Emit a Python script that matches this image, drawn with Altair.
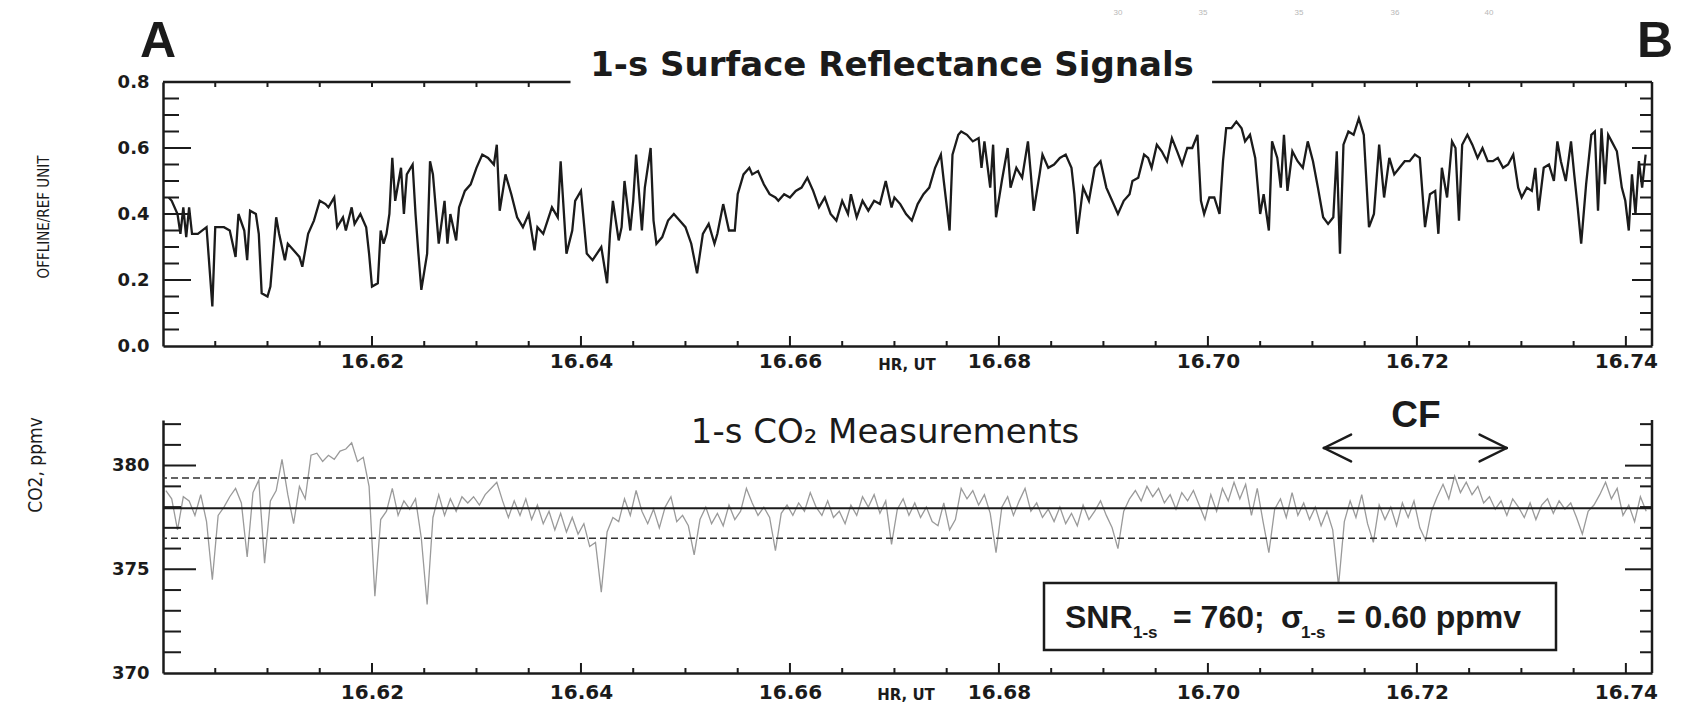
import altair as alt
import pandas as pd

INK = "#1b1b1b"
CO2_GREY = "#9a9a9a"
SANS = "Liberation Sans, Arial, sans-serif"
WIDE = "DejaVu Sans, sans-serif"
COND = "DejaVu Sans Condensed, Liberation Sans Narrow, DejaVu Sans, sans-serif"

# ---- layout (plot areas) ----
W = 1489
H_TOP = 264
H_BOT = 253
GAP = 74
PAD_L, PAD_T, PAD_R, PAD_B = 155, 74, 23, 31

# ---- axes ----
HOUR0 = 16.60
X_DOMAIN = [16.60, 16.7425]
X_MAJOR = [16.62, 16.64, 16.66, 16.68, 16.70, 16.72, 16.74]
X_MINOR = [16.605, 16.610, 16.615, 16.625, 16.630, 16.635, 16.645, 16.650, 16.655,
           16.665, 16.670, 16.675, 16.685, 16.690, 16.695, 16.705, 16.710, 16.715,
           16.725, 16.730, 16.735]
TOP_GAP = [16.639, 16.7004]          # gap in the top frame line behind the title

Y_TOP_DOMAIN = [0.0, 0.8]
Y_TOP_LABELS = [0.0, 0.2, 0.4, 0.6, 0.8]
Y_TOP_MAJOR = [0.2, 0.4, 0.6]
Y_TOP_MINOR = [0.05, 0.10, 0.15, 0.25, 0.30, 0.35, 0.45, 0.50, 0.55, 0.65, 0.70, 0.75]

Y_BOT_DOMAIN = [370.0, 382.2]
Y_BOT_LABELS = [370, 375, 380]
Y_BOT_MAJOR = [375, 380]
Y_BOT_MINOR = [371, 372, 373, 374, 376, 377, 378, 379, 381, 382]

# ---- surface reflectance signal (seconds after 16.60 h, value) ----
REFL_SEC = [2, 3, 5, 6, 7, 8, 9, 10, 12, 15, 17, 18, 21, 23, 25, 26, 28, 29, 30, 32,
            33, 34, 36, 37, 39, 40, 42, 43, 45, 47, 48, 50, 52, 54, 56, 57, 59, 60, 62, 63,
            65, 66, 68, 70, 71, 72, 74, 75, 76, 77, 78, 79, 80, 82, 83, 84, 86, 87, 88, 89,
            91, 92, 93, 95, 97, 98, 99, 101, 102, 104, 106, 108, 110, 112, 114, 115, 116, 118, 120, 122,
            124, 126, 128, 129, 131, 134, 136, 137, 139, 141, 142, 144, 146, 148,
            151, 153, 154, 155, 157, 158, 159, 161, 162, 163, 165, 166, 168, 169, 170, 172,
            174, 176, 178, 180, 182, 184, 186, 188, 190, 191, 193, 195, 197, 198, 200, 202,
            203, 205, 207, 209, 211, 212, 214, 216, 218, 220, 222, 224, 226, 228, 230, 232,
            234, 236, 237, 239, 241, 243, 245, 247, 249, 251, 252, 254, 256, 258, 260, 262,
            264, 266, 268, 269, 271, 272, 274, 275, 277, 279, 281, 282, 283, 285, 286, 287,
            289, 291, 292, 294, 296, 298, 299, 300, 302, 303, 305, 307, 309, 311, 313, 314,
            315, 317, 319, 321, 323, 325, 327, 329, 331, 333, 334, 336, 338,
            339.4, 340.6, 342.4, 344.1, 345.9, 347.6, 349.4, 351.1, 352.9, 354.6, 356.4, 357.6,
            358.7, 360.5, 362.2, 364.0, 365.2, 366.3, 368.1, 369.8, 371.6, 372.8, 374.5, 376.3,
            378.0, 379.2, 381.0, 382.1, 383.9, 385.1, 386.2, 387.4, 389.1, 390.9, 392.7, 394.4,
            396.2, 397.9, 399.7, 401.4, 403.2, 404.4, 405.5, 406.7, 408.4, 410.2, 412.0, 413.7,
            415.5, 417.2, 419.0, 420.7, 422.5, 424.2, 426.0, 427.8, 429.5, 431.3, 433.0, 434.8,
            436.5, 438.3, 439.4, 440.6, 442.4, 444.1, 445.3, 446.5, 447.6, 449.4, 451.1, 452.9,
            454.6, 456.4, 458.2, 459.9, 461.7, 463.4, 465.2, 466.9, 468.1, 469.9, 471.6, 472.8,
            473.9, 475.7, 477.5, 479.2, 480.4, 481.6, 483.3, 485.1, 486.2, 487.4, 488.6, 490.3,
            492.1, 493.3, 494.4, 495.6, 496.8, 497.9, 499.1, 500.9, 502.6, 503.8, 505.0, 506.1,
            507.3, 508.5, 509.6, 510.8]
REFL_VAL = [0.45, 0.44, 0.40, 0.34, 0.42, 0.33, 0.42, 0.34, 0.34, 0.36, 0.12, 0.36, 0.36, 0.35, 0.27, 0.40, 0.35, 0.26, 0.41, 0.40,
            0.34, 0.16, 0.15, 0.18, 0.39, 0.34, 0.26, 0.31, 0.29, 0.27, 0.24, 0.34, 0.38, 0.44, 0.43, 0.42, 0.45, 0.36, 0.39, 0.35,
            0.42, 0.37, 0.40, 0.36, 0.28, 0.18, 0.19, 0.35, 0.31, 0.34, 0.40, 0.57, 0.44, 0.54, 0.40, 0.52, 0.55, 0.40, 0.28, 0.17,
            0.28, 0.56, 0.52, 0.31, 0.44, 0.31, 0.40, 0.32, 0.42, 0.47, 0.49, 0.54, 0.58, 0.57, 0.55, 0.61, 0.41, 0.52, 0.46, 0.39,
            0.36, 0.40, 0.29, 0.36, 0.34, 0.42, 0.39, 0.56, 0.28, 0.35, 0.44, 0.47, 0.28, 0.26,
            0.30, 0.19, 0.34, 0.44, 0.32, 0.36, 0.50, 0.35, 0.44, 0.58, 0.35, 0.48, 0.60, 0.38, 0.31, 0.33,
            0.38, 0.40, 0.38, 0.36, 0.31, 0.22, 0.34, 0.37, 0.31, 0.34, 0.43, 0.35, 0.35, 0.46, 0.52, 0.54,
            0.52, 0.53, 0.49, 0.46, 0.45, 0.44, 0.46, 0.45, 0.47, 0.48, 0.51, 0.47, 0.42, 0.45, 0.40, 0.38,
            0.44, 0.40, 0.46, 0.39, 0.44, 0.41, 0.44, 0.43, 0.50, 0.42, 0.45, 0.43, 0.40, 0.38, 0.43, 0.46,
            0.48, 0.54, 0.58, 0.50, 0.35, 0.58, 0.64, 0.65, 0.64, 0.62, 0.63, 0.54, 0.62, 0.48, 0.61, 0.39,
            0.50, 0.60, 0.48, 0.54, 0.51, 0.62, 0.52, 0.41, 0.52, 0.58, 0.54, 0.55, 0.57, 0.58, 0.54, 0.46,
            0.34, 0.48, 0.44, 0.54, 0.56, 0.48, 0.44, 0.40, 0.44, 0.46, 0.50, 0.51, 0.58,
            0.57, 0.54, 0.61, 0.59, 0.56, 0.63, 0.59, 0.55, 0.60, 0.60, 0.64, 0.44,
            0.40, 0.45, 0.45, 0.40, 0.56, 0.66, 0.66, 0.68, 0.66, 0.62, 0.64, 0.57,
            0.40, 0.46, 0.35, 0.62, 0.57, 0.48, 0.64, 0.47, 0.59, 0.56, 0.54, 0.62,
            0.56, 0.48, 0.39, 0.37, 0.39, 0.59, 0.28, 0.61, 0.65, 0.64, 0.69, 0.64,
            0.36, 0.40, 0.61, 0.45, 0.57, 0.52, 0.54, 0.56, 0.56, 0.58, 0.57, 0.36,
            0.46, 0.47, 0.34, 0.54, 0.45, 0.62, 0.60, 0.38, 0.61, 0.64, 0.61, 0.57,
            0.60, 0.56, 0.56, 0.57, 0.54, 0.55, 0.58, 0.48, 0.45, 0.48, 0.47, 0.54,
            0.41, 0.54, 0.55, 0.50, 0.62, 0.56, 0.50, 0.62, 0.52, 0.42, 0.31, 0.49,
            0.64, 0.65, 0.41, 0.66, 0.49, 0.64, 0.62, 0.59, 0.48, 0.44, 0.35, 0.52,
            0.40, 0.56, 0.48, 0.58]

# ---- 1-s CO2 (sampled every 2 s starting 1 s after 16.60 h), ppmv ----
CO2_SEC0 = 1
CO2_DT = 2
CO2_VAL = [378.8, 378.4, 376.9, 378.5, 378.3, 377.6, 378.6, 377.3, 374.5, 377.6,
           378.0, 378.5, 378.9, 378.2, 375.6, 378.7, 379.3, 375.3, 378.3, 378.8,
           380.3, 378.6, 377.2, 379.0, 378.4, 380.5, 380.6, 380.2, 380.5, 380.3,
           380.7, 380.8, 381.1, 380.2, 380.4, 379.0, 373.7, 377.4, 377.8, 378.9,
           377.6, 378.3, 377.9, 378.4, 376.5, 373.3, 377.5, 378.6, 377.6, 378.4,
           377.8, 378.5, 378.2, 378.5, 378.1, 378.6, 378.9, 379.2, 378.3, 377.5,
           378.3, 377.6, 378.4, 377.4, 378.1, 377.2, 377.8, 376.9, 377.7, 376.8,
           377.5, 376.7, 377.2, 376.1, 376.3, 373.9,
           376.8, 377.5, 377.3, 378.4, 377.6, 378.8, 377.8, 377.2, 377.9, 377.0,
           378.0, 378.5, 377.3, 377.6, 377.1, 375.7, 377.4, 378.0, 377.2, 377.7,
           377.1, 378.1, 377.4, 377.8, 378.9, 378.2, 377.6, 378.0, 377.5, 375.9,
           377.7, 378.1, 377.6, 378.2, 377.8, 378.7, 378.0, 377.6, 378.3, 377.5,
           377.8, 377.2, 378.1, 377.6, 378.5, 378.0, 378.6, 377.7, 378.3, 376.2,
           377.9, 378.4, 377.6, 378.2, 377.5, 378.0, 377.3, 377.1, 378.2, 376.9,
           377.4, 378.9, 378.4, 378.8, 378.1, 378.6, 377.7, 375.8, 378.0, 378.5,
           377.6, 378.3, 378.9, 377.8, 378.2, 377.5, 377.9, 377.3, 378.0, 377.2,
           377.7, 377.1, 378.1, 377.4, 377.8, 378.3, 377.6, 377.0, 376.0, 377.8,
           378.4, 378.8, 378.3, 379.0, 378.5, 378.9, 378.2, 378.6, 377.9, 378.7,
           378.3, 378.8, 378.1,
           377.4, 378.6, 377.8, 378.9, 378.3, 379.2, 378.4, 379.1, 377.6, 378.9,
           377.3, 375.8, 377.9, 378.4, 377.5, 378.7, 377.6, 378.2, 377.4, 378.0,
           377.1, 377.8, 376.9, 374.2, 377.3, 378.3, 377.5, 378.6, 377.2, 376.3,
           378.1, 377.4, 378.0, 377.1, 378.2, 377.5, 378.3, 377.0, 376.4, 377.8,
           378.5, 379.1, 378.4, 379.5, 378.7, 379.2, 378.6, 379.0, 378.2, 378.5,
           377.9, 378.3, 377.6, 378.4, 378.0, 377.5, 378.2, 377.4, 378.1, 378.4,
           377.7, 378.3, 377.9, 378.2, 377.5, 376.7, 377.8, 378.1, 378.6, 379.2,
           378.4, 378.9, 377.6, 378.1, 377.3, 378.5, 377.8]
CO2_MEAN = 377.95
CO2_BAND = [376.5, 379.4]

# CF annotation (hours, ppmv)
CF_START, CF_END, CF_Y = 16.7111, 16.7286, 380.85
HEAD_DX, HEAD_DY = 0.0026, 0.65

SNR_PARTS = [("SNR", 0), ("1-s", 1), ("= 760;", 0), ("\u03c3", 0), ("1-s", 1), ("= 0.60 ppmv", 0)]
SNR_X = [902, 970, 1010, 1118, 1138, 1174]
FAINT = ["30", "35", "35", "36", "40"]
FAINT_X = [955, 1040, 1136, 1232, 1326]

# ---------------------------------------------------------------------------
refl = pd.DataFrame({"hour": [HOUR0 + s / 3600 for s in REFL_SEC], "refl": REFL_VAL})
co2 = pd.DataFrame({"hour": [HOUR0 + (CO2_SEC0 + i * CO2_DT) / 3600 for i in range(len(CO2_VAL))],
                    "co2": CO2_VAL})

xs = alt.Scale(domain=X_DOMAIN, nice=False, zero=False)
ys_top = alt.Scale(domain=Y_TOP_DOMAIN, nice=False, zero=False)
ys_bot = alt.Scale(domain=Y_BOT_DOMAIN, nice=False, zero=False)


def x_axis(pad):
    return alt.Axis(values=X_MAJOR, format=".2f", ticks=False, domain=True, domainColor=INK,
                    domainWidth=2.5, labelFont=WIDE, labelFontSize=20, labelFontWeight="bold",
                    labelColor=INK, labelPadding=pad, labelFlush=False, labelOverlap=False,
                    grid=False, title=None)


def y_axis(vals, fmt):
    return alt.Axis(values=vals, format=fmt, ticks=False, domain=True, domainColor=INK,
                    domainWidth=2.5, labelFont=WIDE, labelFontSize=18, labelFontWeight="bold",
                    labelColor=INK, labelPadding=14, labelOverlap=False, grid=False, title=None)


AX_X_TOP = x_axis(5)
AX_X_BOT = x_axis(9)
AX_Y_TOP = y_axis(Y_TOP_LABELS, ".1f")
AX_Y_BOT = y_axis(Y_BOT_LABELS, "d")


def yticks(vals, scale, ax, x0, x1):
    return alt.Chart(pd.DataFrame({"v": vals})).mark_rule(color=INK, strokeWidth=2).encode(
        y=alt.Y("v:Q", scale=scale, axis=ax), x=alt.value(x0), x2=alt.value(x1))


def xticks(vals, ax, y0, y1):
    return alt.Chart(pd.DataFrame({"v": vals})).mark_rule(color=INK, strokeWidth=2).encode(
        x=alt.X("v:Q", scale=xs, axis=ax), y=alt.value(y0), y2=alt.value(y1))


def txt(text, x, y, size, font=SANS, weight="bold", align="center", baseline="alphabetic",
        color=INK, angle=0):
    kw = dict(fontSize=size, font=font, fontWeight=weight, align=align, baseline=baseline, color=color)
    if angle:
        kw["angle"] = angle
    return alt.Chart(pd.DataFrame({"t": [text]})).mark_text(**kw).encode(
        text="t:N", x=alt.value(x), y=alt.value(y))


def frame(y0, y1):
    return alt.Chart(pd.DataFrame({"t": [0]})).mark_rect(opacity=0).encode(
        x=alt.value(-PAD_L), x2=alt.value(W + PAD_R), y=alt.value(y0), y2=alt.value(y1))


def vrule(x, y0, y1):
    return alt.Chart(pd.DataFrame({"t": [0]})).mark_rule(color=INK, strokeWidth=2.5).encode(
        x=alt.value(x), y=alt.value(y0), y2=alt.value(y1))


# ---------------- top panel ----------------
top_line = alt.Chart(refl).mark_line(color=INK, strokeWidth=2.3).encode(
    x=alt.X("hour:Q", scale=xs, axis=AX_X_TOP),
    y=alt.Y("refl:Q", scale=ys_top, axis=AX_Y_TOP),
)
top_border = alt.Chart(pd.DataFrame({"a": [X_DOMAIN[0], TOP_GAP[1]], "b": [TOP_GAP[0], X_DOMAIN[1]]})).mark_rule(
    color=INK, strokeWidth=2.5).encode(x=alt.X("a:Q", scale=xs, axis=AX_X_TOP), x2="b:Q", y=alt.value(0))
top_tick_vals = [v for v in X_MINOR + X_MAJOR if v < TOP_GAP[0] or v > TOP_GAP[1]]

top_layers = [
    frame(-PAD_T, H_TOP),
    top_line,
    yticks(Y_TOP_MINOR, ys_top, AX_Y_TOP, 0, 16), yticks(Y_TOP_MAJOR, ys_top, AX_Y_TOP, 0, 28),
    yticks(Y_TOP_MINOR, ys_top, AX_Y_TOP, W, W - 12), yticks(Y_TOP_MAJOR, ys_top, AX_Y_TOP, W, W - 20),
    xticks(X_MINOR, AX_X_TOP, H_TOP, H_TOP - 5), xticks(X_MAJOR, AX_X_TOP, H_TOP, H_TOP - 10),
    xticks(top_tick_vals, AX_X_TOP, 0, 5),
    top_border,
    vrule(W, 0, H_TOP),
    txt("A", -5, -25, 50),
    txt("B", 1492, -25, 50),
    txt("1-s Surface Reflectance Signals", 729, -6, 34, font=WIDE),
    txt("OFFLINE/REF UNIT", -119, 135, 15, font=COND, weight="normal", baseline="middle", angle=270),
    txt("HR, UT", 744, 283, 15, font=WIDE, baseline="middle"),
]
for lab, fx in zip(FAINT, FAINT_X):
    top_layers.append(txt(lab, fx, -69, 8, weight="normal", baseline="middle", color="#b8b8b8"))

top = alt.layer(*top_layers).properties(width=W, height=H_TOP)

# ---------------- bottom panel ----------------
co2_line = alt.Chart(co2).mark_line(color=CO2_GREY, strokeWidth=1.3).encode(
    x=alt.X("hour:Q", scale=xs, axis=AX_X_BOT),
    y=alt.Y("co2:Q", scale=ys_bot, axis=AX_Y_BOT),
)
mean_rule = alt.Chart(pd.DataFrame({"y": [CO2_MEAN]})).mark_rule(color=INK, strokeWidth=2).encode(
    y=alt.Y("y:Q", scale=ys_bot, axis=AX_Y_BOT))
band_rule = alt.Chart(pd.DataFrame({"y": CO2_BAND})).mark_rule(
    color="#333333", strokeWidth=1.6, strokeDash=[7, 4]).encode(y=alt.Y("y:Q", scale=ys_bot, axis=AX_Y_BOT))

arrow = pd.DataFrame({
    "x": [CF_START, CF_START, CF_START, CF_END, CF_END],
    "x2": [CF_END, CF_START + HEAD_DX, CF_START + HEAD_DX, CF_END - HEAD_DX, CF_END - HEAD_DX],
    "y": [CF_Y] * 5,
    "y2": [CF_Y, CF_Y + HEAD_DY, CF_Y - HEAD_DY, CF_Y + HEAD_DY, CF_Y - HEAD_DY],
})
arrow_layer = alt.Chart(arrow).mark_rule(color=INK, strokeWidth=2.5, strokeCap="round").encode(
    x=alt.X("x:Q", scale=xs, axis=AX_X_BOT), x2="x2:Q",
    y=alt.Y("y:Q", scale=ys_bot, axis=AX_Y_BOT), y2="y2:Q")

snr_box = alt.Chart(pd.DataFrame({"t": [0]})).mark_rect(fill="white", stroke=INK, strokeWidth=2.5).encode(
    x=alt.value(881), x2=alt.value(1393), y=alt.value(163), y2=alt.value(230))

bot_layers = [
    frame(0, H_BOT + PAD_B),
    co2_line,
    band_rule,
    mean_rule,
    yticks(Y_BOT_MINOR, ys_bot, AX_Y_BOT, 0, 18), yticks(Y_BOT_MAJOR, ys_bot, AX_Y_BOT, 0, 33),
    yticks(Y_BOT_MINOR, ys_bot, AX_Y_BOT, W, W - 12), yticks(Y_BOT_MAJOR, ys_bot, AX_Y_BOT, W, W - 27),
    xticks(X_MINOR, AX_X_BOT, H_BOT, H_BOT - 5), xticks(X_MAJOR, AX_X_BOT, H_BOT, H_BOT - 10),
    vrule(W, 0, H_BOT),
    txt("1-s CO\u2082 Measurements", 722, 23, 34, font=WIDE, weight="normal"),
    txt("CF", 1253, 7, 37),
    arrow_layer,
    snr_box,
    txt("CO2, ppmv", -127, 45, 19, font=COND, weight="normal", baseline="middle", angle=270),
    txt("HR, UT", 743, 280, 15, font=WIDE),
]
for (part, sub), px in zip(SNR_PARTS, SNR_X):
    if sub:
        bot_layers.append(txt(part, px, 218, 17, align="left"))
    else:
        bot_layers.append(txt(part, px, 208, 32, align="left"))

bottom = alt.layer(*bot_layers).properties(width=W, height=H_BOT)

chart = alt.vconcat(top, bottom, spacing=GAP, bounds="flush").properties(
    padding=0
).configure_view(stroke=None)

chart.save("out.html", embed_options={"renderer": "svg", "actions": False})
